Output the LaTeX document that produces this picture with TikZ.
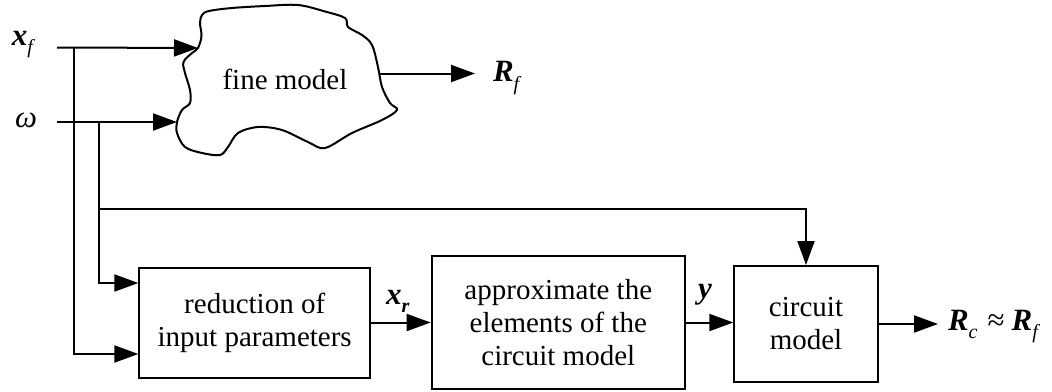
\documentclass[tikz,border=0pt]{standalone}
\usepackage{fontspec}
\setmainfont{Liberation Serif}
\usetikzlibrary{arrows.meta,positioning}
\newcommand{\vb}[1]{\textbf{\textit{#1}}}
\newcommand{\sbs}[1]{\raisebox{-0.6ex}{\fontsize{20}{20}\selectfont\textit{#1}}}

\begin{document}
\begin{tikzpicture}[
  x=1pt, y=-1pt,
  line width=2pt,
  flow/.style={draw=black, -{Triangle[length=24pt,width=17pt]}},
  blockbox/.style={draw=black, line width=2pt, align=center, inner sep=0pt, font=\fontsize{29}{33}\selectfont},
  cloudline/.style={draw=black, line width=2pt},
  lab/.style={font=\fontsize{31}{35}\selectfont, inner sep=0pt, anchor=base west}
]
  \useasboundingbox (0,0) rectangle (1052,391);

  % fine model (cloud)
  \draw[cloudline] plot[smooth cycle, tension=0.55] coordinates {
    (198,48) (201.5,36) (200,23) (202,15) (209,11) (232,8) (265,6) (298,5)
    (325,11.5) (345,18) (348,27) (362,35) (372,45) (378,67) (382,87)
    (390,103) (397,110) (382,120) (352,133) (325,148) (308,142) (282,130)
    (258,127) (238,133) (228,147) (220,155) (202,153) (185,147) (177,133)
    (177,122) (182,110) (190,103) (190,90) (185,73) (183.5,62) (192,53)};
  \node[lab, anchor=base, font=\fontsize{29}{33}\selectfont] (fine) at (285,89) {fine model};

  % blocks
  \node[blockbox, minimum width=230.7pt, minimum height=110pt] (red) at (254.7,322.5) {reduction of\\input parameters};
  \node[blockbox, minimum width=253.3pt, minimum height=133pt] (approx) at (558.3,322.5) {approximate the\\elements of the\\circuit model};
  \node[blockbox, minimum width=143.4pt, minimum height=116pt] (circ) at (806,324) {circuit\\model};

  % end points and junctions
  \coordinate (xfs) at (57,47.5);
  \coordinate (xfj) at (74,47.5);
  \coordinate (fin1) at (198,48);
  \coordinate (ws) at (57,122);
  \coordinate (wj) at (99,122);
  \coordinate (fin2) at (177,122);
  \coordinate (wk) at (99,209);
  \coordinate (fout) at (379,73.5);
  \coordinate (rfend) at (475,73.5);
  \coordinate (rin1) at ([yshift=-16.5pt]red.north west);
  \coordinate (rin2) at ([yshift=24.5pt]red.south west);
  \coordinate (rcend) at (938,324);

  % connectors
  \draw[flow] (xfs) -- (fin1);
  \draw[flow] (ws) -- (fin2);
  \draw[flow] (fout) -- (rfend);
  \draw[flow] (xfj) |- (rin2);
  \draw[flow] (wj) |- (rin1);
  \draw[flow] (wk) -| (circ.north);
  \draw[flow] (red.east) -- (approx.west);
  \draw[flow] (approx.east) -- (approx.east -| circ.west);
  \draw[flow] (circ.east) -- (rcend);

  % labels
  \node[lab] (xflab) at (11,45) {\vb{x}\sbs{f}};
  \node[lab] (wlab) at (14,127) {\textit{ω}};
  \node[lab] (rflab) at (492,81.5) {\vb{R}\sbs{f}};
  \node[lab] (xrlab) at (385,304) {\vb{x}\raisebox{-0.6ex}{\fontsize{20}{20}\selectfont\vb{r}}};
  \node[lab] (ylab) at (697,298) {\vb{y}};
  \node[lab] (rclab) at (947,330) {\vb{R}\sbs{c}\hspace{10pt}≈\hspace{7pt}\vb{R}\sbs{f}};
\end{tikzpicture}
\end{document}
